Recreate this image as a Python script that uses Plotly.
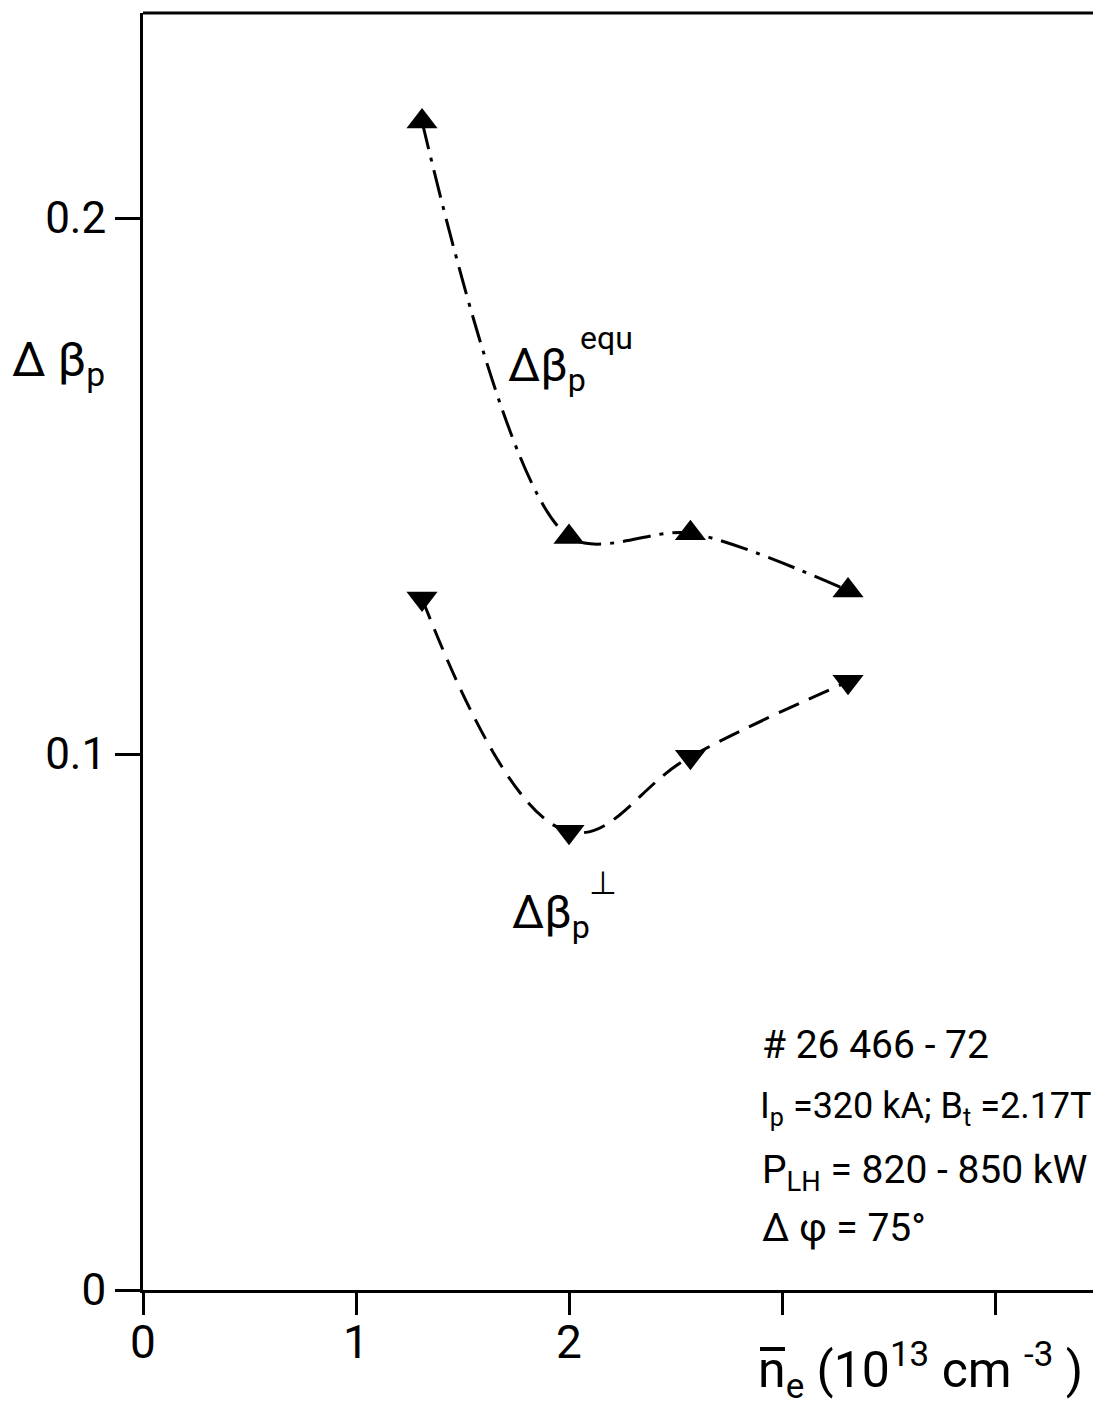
import plotly.graph_objects as go

# ---- data ----
ne = [1.31, 2.0, 2.57, 3.31]                       # line-averaged density (10^13 cm^-3)
dbeta_equ = [0.218, 0.1405, 0.1412, 0.1305]        # Δβ_p^equ  (up triangles)
dbeta_perp = [0.129, 0.0855, 0.0995, 0.1135]       # Δβ_p^⊥   (down triangles)

x_tickvals = [0, 1, 2, 3, 4]
x_ticktext = ["0", "1", "2", "", ""]
y_tickvals = [0, 0.1, 0.2]
y_ticktext = ["0", "0.1", "0.2"]

FONT = "Roboto"
W, H = 1093, 1407
ML, MT, MB, MR = 143, 13, 117, 0
XPX = 213.0      # px per x unit
YPX = 5360.0     # px per y unit
PW = W - ML - MR
PH = H - MT - MB
x_max = PW / XPX
y_max = PH / YPX


def paper_x(xp):
    return (xp - ML) / PW


def paper_y(yp):
    return (H - MB - yp) / PH


fig = go.Figure()

fig.add_trace(go.Scatter(
    x=ne, y=dbeta_equ, mode="lines",
    line=dict(color="black", width=3, shape="spline", smoothing=0.85,
              dash="28px,9px,4px,9px"),
    showlegend=False, hoverinfo="skip"))
fig.add_trace(go.Scatter(
    x=ne, y=dbeta_perp, mode="lines",
    line=dict(color="black", width=3, shape="spline", smoothing=1.15,
              dash="22px,11px"),
    showlegend=False, hoverinfo="skip"))
fig.add_trace(go.Scatter(
    x=ne, y=dbeta_equ, mode="markers",
    marker=dict(symbol="triangle-up", size=27, color="black"),
    showlegend=False))
fig.add_trace(go.Scatter(
    x=ne, y=dbeta_perp, mode="markers",
    marker=dict(symbol="triangle-down", size=27, color="black"),
    showlegend=False))

ann = []


def text(xp, yp, s, size, xanchor="left", yanchor="middle"):
    ann.append(dict(x=paper_x(xp), y=paper_y(yp), xref="paper", yref="paper", text=s,
                    showarrow=False, xanchor=xanchor, yanchor=yanchor,
                    font=dict(family=FONT, size=size, color="black")))


# y axis label
text(10, 362, "Δ β<sub>p</sub>", 48)
# curve labels
text(506, 368, "Δβ<sub>p</sub>", 46)
text(578, 338, "equ", 32)
text(510, 915, "Δβ<sub>p</sub>", 46)
text(587, 883, "⊥", 32)
# discharge info
text(760, 1045, "# 26 466 - 72", 39)
text(758, 1108, "I<sub>p</sub> =320 kA; B<sub>t</sub> =2.17T", 36)
text(760, 1172, "P<sub>LH</sub> = 820 - 850 kW", 39)
text(760, 1228, "Δ φ = 75°", 39)
# x axis title (overline of n drawn as a short stroke)
text(756, 1370, "n<sub>e</sub> (10<sup>13</sup> cm <sup>-3</sup> )", 50)

fig.update_layout(
    width=W, height=H,
    margin=dict(l=ML, r=MR, t=MT, b=MB, pad=0),
    paper_bgcolor="white", plot_bgcolor="white",
    font=dict(family=FONT, color="black"),
    annotations=ann,
    shapes=[
        dict(type="line", xref="paper", yref="paper", x0=0, x1=1, y0=1, y1=1,
             line=dict(color="black", width=3)),
        dict(type="line", xref="paper", yref="paper",
             x0=paper_x(760), x1=paper_x(785), y0=paper_y(1349), y1=paper_y(1349),
             line=dict(color="black", width=4)),
    ],
    xaxis=dict(range=[0, x_max], showgrid=False, zeroline=False,
               showline=True, linecolor="black", linewidth=3,
               ticks="outside", ticklen=22, tickwidth=3, tickcolor="black",
               tickvals=x_tickvals, ticktext=x_ticktext, ticklabelstandoff=-12,
               tickfont=dict(family=FONT, size=46, color="black")),
    yaxis=dict(range=[0, y_max], showgrid=False, zeroline=False,
               showline=True, linecolor="black", linewidth=3,
               ticks="outside", ticklen=25, tickwidth=3, tickcolor="black",
               tickvals=y_tickvals, ticktext=y_ticktext,
               tickfont=dict(family=FONT, size=44, color="black")),
)

fig.write_html("out.html")
